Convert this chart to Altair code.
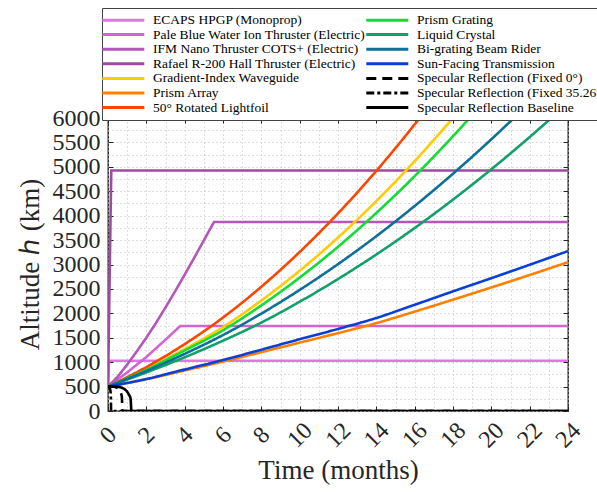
import altair as alt
import pandas as pd

# ---------------- data ----------------
NAMES = [
    "ECAPS HPGP (Monoprop)",
    "Pale Blue Water Ion Thruster (Electric)",
    "IFM Nano Thruster COTS+ (Electric)",
    "Rafael R-200 Hall Thruster (Electric)",
    "Gradient-Index Waveguide",
    "Prism Array",
    "50° Rotated Lightfoil",
    "Prism Grating",
    "Liquid Crystal",
    "Bi-grating Beam Rider",
    "Sun-Facing Transmission",
    "Specular Reflection (Fixed 0°)",
    "Specular Reflection (Fixed 35.26°)",
    "Specular Reflection Baseline",
]
COLORS = ["#e474e4", "#d165d1", "#b457b8", "#9b4c9e", "#ffcc00", "#ff8000",
          "#ff4400", "#11dd33", "#11a068", "#0d7096", "#0a3fd6",
          "#000000", "#000000", "#000000"]
DASHES = [[1, 0]] * 11 + [[10, 6], [8, 3, 3, 3], [1, 0]]

# thrusters (piecewise linear)
T_ECAPS = [0, 0.05, 24]
H_ECAPS = [500, 1030, 1030]
T_PALE = [0, 1, 2, 3, 3.77, 24]
H_PALE = [500, 790, 1105, 1460, 1740, 1740]
T_IFM = [0, 0.5, 1, 1.5, 2, 2.5, 3, 3.5, 4, 4.5, 5, 5.53, 24]
H_IFM = [500, 700, 950, 1220, 1500, 1800, 2120, 2450, 2790, 3140, 3495, 3870, 3870]
T_RAFAEL = [0, 0.17, 24]
H_RAFAEL = [500, 4925, 4925]

# light sails (smooth)
T_GRIN = [0, 2, 4, 6, 8, 10, 12, 14, 16, 18]
H_GRIN = [500, 860, 1270, 1719, 2262, 2873, 3552, 4300, 5116, 6000]
T_PARRAY = [0, 2, 4, 6, 8, 10, 12, 14, 16, 18, 20, 22, 24]
H_PARRAY = [500, 650, 830, 1012, 1205, 1400, 1595, 1800, 2035, 2280, 2530, 2785, 3048]
T_LIGHTFOIL = [0, 2, 4, 6, 8, 10, 12, 14, 16, 16.26]
H_LIGHTFOIL = [500, 900, 1370, 1914, 2545, 3256, 4047, 4918, 5870, 6000]
T_PGRATING = [0, 2, 4, 6, 8, 10, 12, 14, 16, 18, 18.87]
H_PGRATING = [500, 845, 1240, 1654, 2163, 2732, 3363, 4056, 4810, 5627, 6000]
T_LC = [0, 2, 4, 6, 8, 10, 12, 14, 16, 18, 20, 22, 23.13]
H_LC = [500, 790, 1100, 1440, 1811, 2237, 2702, 3205, 3747, 4329, 4950, 5610, 6000]
T_BIGRATING = [0, 2, 4, 6, 8, 10, 12, 14, 16, 18, 20, 21.18]
H_BIGRATING = [500, 820, 1170, 1555, 1995, 2479, 3007, 3580, 4198, 4859, 5564, 6000]
T_SUNFACING = [0, 2, 4, 6, 8, 10, 12, 14, 16, 18, 20, 22, 24]
H_SUNFACING = [500, 655, 850, 1044, 1255, 1470, 1680, 1905, 2175, 2450, 2720, 2995, 3275]

# specular reflection (smooth)
T_SPEC0 = [0, 0.3, 0.45, 0.55, 0.65, 0.72, 0.76, 24]
H_SPEC0 = [500, 495, 480, 450, 390, 300, 0, 0]
T_SPEC35 = [0, 0.06, 0.1, 0.13, 0.15, 0.16, 24]
H_SPEC35 = [500, 490, 460, 400, 300, 0, 0]
T_SPECBASE = [0, 0.5, 0.7, 0.85, 1.0, 1.1, 1.18, 1.22, 24]
H_SPECBASE = [500, 495, 480, 450, 395, 330, 250, 0, 0]

SERIES = [
    (NAMES[0], T_ECAPS, H_ECAPS, "lin"),
    (NAMES[1], T_PALE, H_PALE, "lin"),
    (NAMES[2], T_IFM, H_IFM, "lin"),
    (NAMES[3], T_RAFAEL, H_RAFAEL, "lin"),
    (NAMES[4], T_GRIN, H_GRIN, "smooth"),
    (NAMES[5], T_PARRAY, H_PARRAY, "smooth"),
    (NAMES[6], T_LIGHTFOIL, H_LIGHTFOIL, "smooth"),
    (NAMES[7], T_PGRATING, H_PGRATING, "smooth"),
    (NAMES[8], T_LC, H_LC, "smooth"),
    (NAMES[9], T_BIGRATING, H_BIGRATING, "smooth"),
    (NAMES[10], T_SUNFACING, H_SUNFACING, "smooth"),
    (NAMES[11], T_SPEC0, H_SPEC0, "spec"),
    (NAMES[12], T_SPEC35, H_SPEC35, "spec"),
    (NAMES[13], T_SPECBASE, H_SPECBASE, "spec"),
]

rows = []
for name, ts, hs, kind in SERIES:
    for i, (t, h) in enumerate(zip(ts, hs)):
        rows.append({"series": name, "t": t, "h": h, "kind": kind, "idx": i})
df = pd.DataFrame(rows)

SERIF = "Liberation Serif"
TXT = "#262626"

legend = alt.Legend(
    orient="none", legendX=-6, legendY=-110, columns=2, title=None,
    symbolType="M-3.82,0H3.82", symbolSize=121, symbolStrokeWidth=3,
    symbolOffset=9.3, labelOffset=22.7,
    labelFont=SERIF, labelFontSize=13.5, labelColor="black", labelLimit=0,
    strokeColor="#444444", fillColor="white", padding=5,
    rowPadding=0.6, columnPadding=-6,
)
color = alt.Color("series:N", scale=alt.Scale(domain=NAMES, range=COLORS), legend=legend)
dash = alt.StrokeDash("series:N", scale=alt.Scale(domain=NAMES, range=DASHES), legend=legend)

XS = alt.Scale(domain=[0, 24], nice=False)
YS = alt.Scale(domain=[0, 6000], nice=False)
GRID = dict(grid=True, gridDash=[1, 3], gridColor="#bdbdbd", gridWidth=1)

x_main = alt.Axis(
    orient="bottom", values=list(range(0, 25)), format="d",
    labelExpr="datum.value % 2 === 0 ? datum.label : ''",
    labelAngle=315, labelAlign="center", labelBaseline="middle", labelPadding=24,
    labelFont=SERIF, labelFontSize=24, labelColor=TXT, labelOverlap=False, labelFlush=False,
    ticks=False, domain=False,
    title="Time (months)", titleFont=SERIF, titleFontSize=27, titleFontWeight="normal",
    titleColor=TXT, titleX=230, titleY=67, titleAlign="center", titleBaseline="alphabetic",
    **GRID,
)
y_main = alt.Axis(
    orient="left", values=list(range(0, 6001, 250)), format="d",
    labelExpr="datum.value % 500 === 0 ? datum.label : ''",
    labelPadding=8, labelFont=SERIF, labelFontSize=24, labelColor=TXT,
    labelOverlap=False, labelFlush=False, labelBaseline="middle",
    ticks=False, domain=False,
    title="Altitude \u210e (km)", titleFont=SERIF, titleFontSize=27, titleFontWeight="normal",
    titleColor=TXT, titleX=-70, titleY=146, titleAngle=270, titleAlign="center",
    titleBaseline="alphabetic",
    **GRID,
)
TICKS = dict(labels=False, domain=False, grid=False, ticks=True, tickSize=5,
             tickColor="#222222", tickWidth=1, title=None, offset=-5)
x_bot = alt.Axis(orient="bottom", values=list(range(0, 25, 2)), **TICKS)
x_top = alt.Axis(orient="top", values=list(range(0, 25, 2)), **TICKS)
y_left = alt.Axis(orient="left", values=list(range(0, 6001, 500)), **TICKS)
y_right = alt.Axis(orient="right", values=list(range(0, 6001, 500)), **TICKS)

base = alt.Chart(df)


def layer(kind, interp, xa, ya):
    return base.transform_filter(alt.datum.kind == kind).mark_line(
        interpolate=interp, strokeWidth=2.6, clip=True
    ).encode(
        x=alt.X("t:Q", scale=XS, axis=xa),
        y=alt.Y("h:Q", scale=YS, axis=ya),
        color=color,
        strokeDash=dash,
        order="idx:Q",
        detail="series:N",
    )


chart = alt.layer(
    layer("lin", "linear", x_main, y_main),
    layer("smooth", "monotone", x_bot, y_right),
    layer("spec", "monotone", x_top, y_left),
).resolve_axis(x="independent", y="independent").properties(
    width=460, height=293,
    autosize=alt.AutoSizeParams(type="none"),
    padding={"left": 108, "top": 118, "right": 29, "bottom": 81},
    background="white",
).configure_view(stroke="#111111", strokeWidth=1.3)

chart.save("out.html", embed_options={"renderer": "svg", "actions": False})
